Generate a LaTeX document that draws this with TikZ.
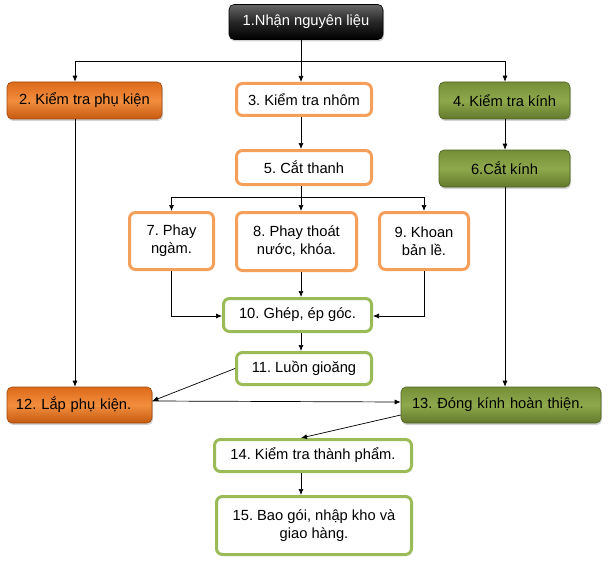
\documentclass[tikz,border=0pt]{standalone}
\usepackage{fontspec}
\setmainfont{Liberation Sans}
\usetikzlibrary{arrows.meta,shadows}
\frenchspacing
\definecolor{orline}{HTML}{F5A05A}
\definecolor{grline}{HTML}{9BBB59}
\definecolor{ortop}{HTML}{DD6A1A}
\definecolor{ormid}{HTML}{F28E3E}
\definecolor{orbot}{HTML}{C65A10}
\definecolor{grtop}{HTML}{758F38}
\definecolor{grmid}{HTML}{8EA94C}
\definecolor{grbot}{HTML}{62792C}
\tikzset{
  box/.style={rectangle, rounded corners=6pt, inner sep=0pt, align=center,
    font=\fontsize{14.7}{18}\selectfont},
  orbox/.style={box, draw=orline, line width=3pt, fill=white},
  grbox/.style={box, draw=grline, line width=3pt, fill=white},
  orfill/.style={box, rounded corners=5pt, draw=orbot!80!black, line width=0.6pt,
    top color=ortop, bottom color=orbot, middle color=ormid,
    drop shadow={shadow xshift=1pt, shadow yshift=-2pt, opacity=0.35}},
  grfill/.style={box, rounded corners=5pt, draw=grbot!80!black, line width=0.6pt,
    top color=grtop, bottom color=grbot, middle color=grmid,
    drop shadow={shadow xshift=1pt, shadow yshift=-2pt, opacity=0.35}},
  bkfill/.style={box, rounded corners=5pt, draw=black, line width=0.6pt,
    top color=gray!80!black, bottom color=black, middle color=black!85,
    text=white, drop shadow={shadow xshift=1pt, shadow yshift=-2pt, opacity=0.35}},
  arr/.style={-{Latex[length=6pt,width=5pt]}, line width=0.7pt},
  ln/.style={line width=0.7pt}
}
\begin{document}
\begin{tikzpicture}[x=1pt,y=-1pt]
  \useasboundingbox (0,0) rectangle (610,567);
  % columns of the connectors
  \coordinate (xl) at (75,0);
  \coordinate (xm) at (301,0);
  \coordinate (xr) at (505,0);
  % row 1
  \node[bkfill, minimum width=154, minimum height=35] (n1) at (306,22) {1.Nhận nguyên liệu};
  % row 2
  \node[orfill, minimum width=155, minimum height=37] (n2) at (84.5,100.5) {2. Kiểm tra phụ kiện};
  \node[orbox, minimum width=135, minimum height=32] (n3) at (304,99.5) {3. Kiểm tra nhôm};
  \node[grfill, minimum width=131, minimum height=37] (n4) at (504.5,100.5) {4. Kiểm tra kính};
  % row 3
  \node[orbox, minimum width=135, minimum height=34] (n5) at (304,167.5) {5. Cắt thanh};
  \node[grfill, minimum width=131, minimum height=37] (n6) at (504.5,168.5) {6.Cắt kính};
  % row 4
  \node[orbox, minimum width=84, minimum height=57] (n7) at (171.5,241) {7. Phay\\ngàm.};
  \node[orbox, minimum width=120, minimum height=58] (n8) at (296.5,241.5) {8. Phay thoát\\nước, khóa.};
  \node[orbox, minimum width=89, minimum height=57] (n9) at (424,241) {9. Khoan\\bản lề.};
  % row 5
  \node[grbox, minimum width=148, minimum height=33] (n10) at (297.5,315) {10. Ghép, ép góc.};
  \node[grbox, minimum width=135, minimum height=32] (n11) at (304,368.5) {11. Luồn gioăng};
  % row 6
  \node[orfill, minimum width=145, minimum height=36, text width=127, align=left] (n12) at (79.5,405) {12. Lắp phụ kiện.};
  \node[grfill, minimum width=200, minimum height=36, text width=178, align=left] (n13) at (501,405) {13. Đóng kính hoàn thiện.};
  % rows 7 and 8
  \node[grbox, minimum width=197, minimum height=32] (n14) at (313,455.5) {14. Kiểm tra thành phẩm.};
  \node[grbox, minimum width=195, minimum height=58] (n15) at (314,525.5) {15. Bao gói, nhập kho và\\giao hàng.};
  % top fork
  \coordinate (f1) at (301,61);
  \draw[ln] (n1.south -| xm) -- (f1);
  \draw[arr] (f1) -| (n2.north -| xl);
  \draw[arr] (f1) -- (n3.north -| xm);
  \draw[arr] (f1) -| (n4.north -| xr);
  % middle column
  \draw[arr] (n3.south -| xm) -- (n5.north -| xm);
  \coordinate (f2) at (301,197);
  \draw[arr] (n5.south -| xm) -- (n8.north -| xm);
  \draw[arr] (f2) -| (n7.north);
  \draw[arr] (f2) -| (n9.north);
  \draw[arr] (n7.south) |- ([yshift=-1pt]n10.west);
  \draw[arr] (n9.south) |- ([yshift=-1pt]n10.east);
  \draw[arr] (n8.south -| xm) -- (n10.north -| xm);
  \draw[arr] (n10.south -| xm) -- (n11.north -| xm);
  % side columns
  \draw[arr] (n2.south -| xl) -- (n12.north -| xl);
  \draw[arr] (n4.south -| xr) -- (n6.north -| xr);
  \draw[arr] (n6.south -| xr) -- (n13.north -| xr);
  % bottom
  \draw[arr] (n11.west) -- ([yshift=4pt]n12.east);
  \draw[arr] ([yshift=4pt]n12.east) -- ([yshift=3pt]n13.west);
  \draw[arr] ([yshift=-10pt]n13.west) -- (n14.north -| xm);
  \draw[arr] (n14.south -| xm) -- (n15.north -| xm);
\end{tikzpicture}
\end{document}
